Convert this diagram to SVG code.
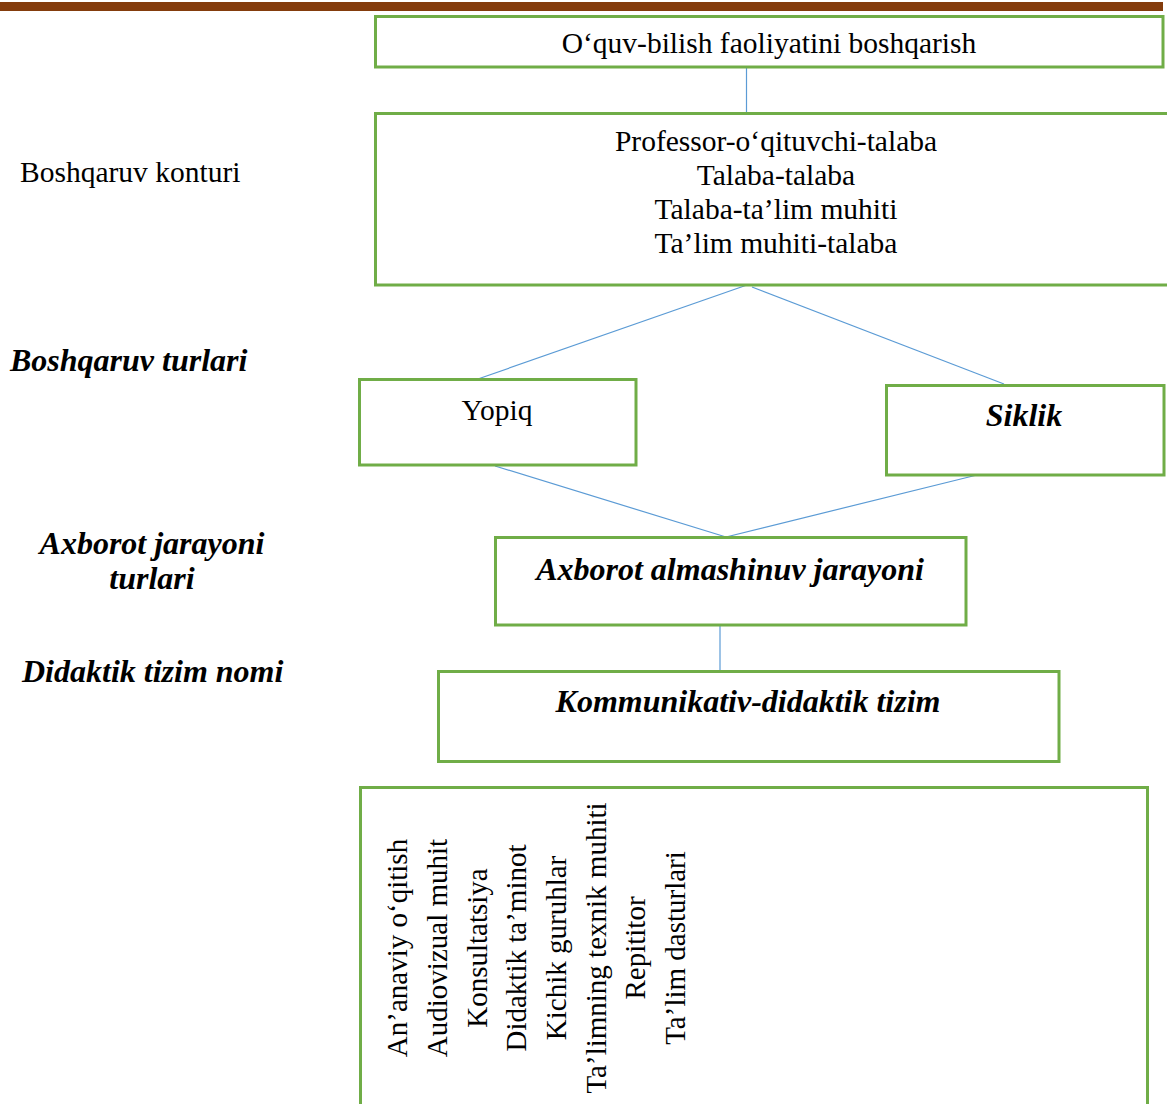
<svg xmlns="http://www.w3.org/2000/svg" width="1167" height="1104" viewBox="0 0 1167 1104">
<style>
.box{fill:#fff;stroke:#70AD47;stroke-width:3}
.con{stroke:#5B9BD5;stroke-width:1.2;fill:none}
.t{font-family:"Liberation Serif",serif;font-size:29.5px;fill:#000}
.c{text-anchor:middle}
.bi{font-weight:bold;font-style:italic;font-size:32px}
.v{font-family:"Liberation Serif",serif;font-size:29px;fill:#000;text-anchor:middle}
</style>
<rect x="0" y="2" width="1163" height="9" fill="#843C0C"/>
<g id="connectors">
<line class="con" x1="746.5" y1="67" x2="746.5" y2="113"/>
<line class="con" x1="747" y1="285" x2="475" y2="380"/>
<line class="con" x1="752" y1="287" x2="1004" y2="384"/>
<line class="con" x1="495" y1="466" x2="726" y2="537"/>
<line class="con" x1="977" y1="475" x2="726" y2="537"/>
<line class="con" x1="720" y1="625" x2="720" y2="671"/>
</g>
<g id="n1"><rect class="box" x="375.5" y="16.5" width="787.5" height="50.5"/><text class="t c" x="769" y="53">O‘quv-bilish faoliyatini boshqarish</text></g>
<g id="n2"><rect class="box" x="375.5" y="113.5" width="795" height="171.5"/>
<text class="t c" x="776" y="151">Professor-o‘qituvchi-talaba</text>
<text class="t c" x="776" y="185">Talaba-talaba</text>
<text class="t c" x="776" y="219">Talaba-ta’lim muhiti</text>
<text class="t c" x="776" y="253">Ta’lim muhiti-talaba</text></g>
<g id="lbl1"><text class="t" x="20" y="182">Boshqaruv konturi</text></g>
<g id="lbl2"><text class="t bi" x="10" y="371">Boshqaruv turlari</text></g>
<g id="lbl3"><text class="t bi c" x="152" y="554">Axborot jarayoni</text><text class="t bi c" x="152" y="589">turlari</text></g>
<g id="lbl4"><text class="t bi" x="22" y="682">Didaktik tizim nomi</text></g>
<g id="n3"><rect class="box" x="359.5" y="379.5" width="276.5" height="85.5"/><text class="t c" x="497" y="420">Yopiq</text></g>
<g id="n4"><rect class="box" x="886.5" y="385.5" width="277.5" height="89.5"/><text class="t bi c" x="1024" y="426">Siklik</text></g>
<g id="n5"><rect class="box" x="495.5" y="537.5" width="470.5" height="87.5"/><text class="t bi c" x="730" y="580">Axborot almashinuv jarayoni</text></g>
<g id="n6"><rect class="box" x="438.5" y="671.5" width="620.5" height="90"/><text class="t bi c" x="748" y="712">Kommunikativ-didaktik tizim</text></g>
<g id="n7"><rect class="box" x="360.5" y="787.5" width="787" height="330"/>
<g transform="translate(0,948) rotate(-90)">
<text class="v" x="0" y="407">An’anaviy o‘qitish</text>
<text class="v" x="0" y="447">Audiovizual muhit</text>
<text class="v" x="0" y="487">Konsultatsiya</text>
<text class="v" x="0" y="526">Didaktik ta’minot</text>
<text class="v" x="0" y="566">Kichik guruhlar</text>
<text class="v" x="0" y="606">Ta’limning texnik muhiti</text>
<text class="v" x="0" y="645">Repititor</text>
<text class="v" x="0" y="685">Ta’lim dasturlari</text>
</g></g>
</svg>
